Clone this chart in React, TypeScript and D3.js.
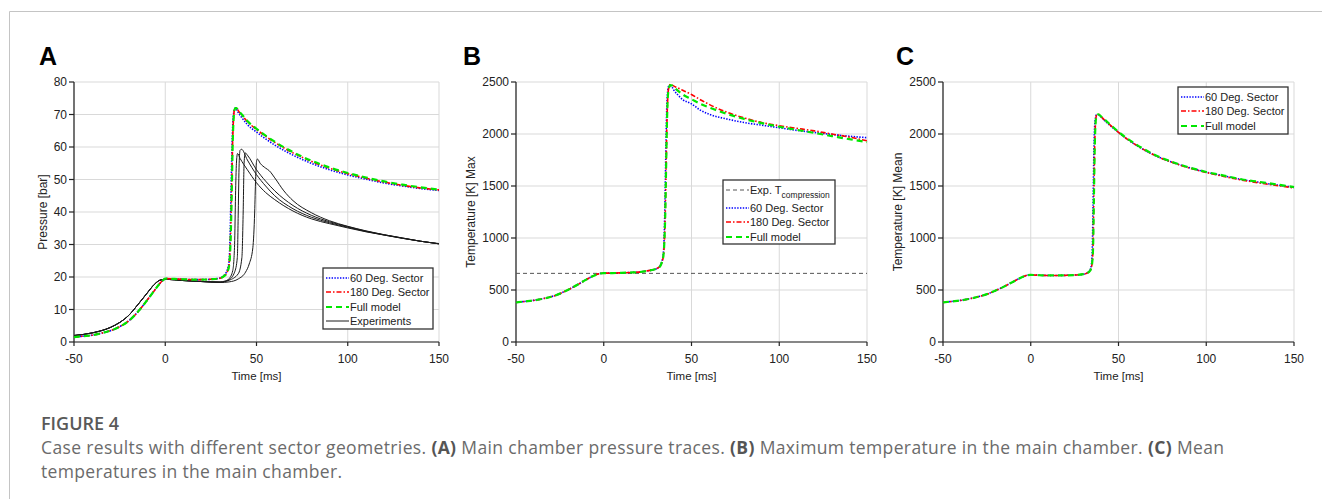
import React from "react";
import * as d3 from "d3";

// ---------- DATA ----------
// Panel A: pressure [bar]
const tSimA = [-50, -45, -40, -35, -30, -25, -20, -15, -10, -6, -3, -1, 0, 5, 10, 15, 20, 25, 30, 32, 34, 35, 35.5, 36, 36.5, 37, 37.5, 38, 38.5, 39, 40, 42, 45, 50, 55, 60, 70, 80, 90, 100, 110, 120, 130, 140, 150];
const pFull = [1.5, 1.8, 2.1, 2.7, 3.5, 4.7, 6.5, 9.3, 12.8, 15.8, 18.0, 19.1, 19.5, 19.4, 19.3, 19.2, 19.2, 19.3, 19.6, 20.2, 21.5, 23.5, 27, 35, 48, 62, 69, 71.5, 72, 72, 71.3, 70, 68, 65.6, 63.5, 61.6, 58.4, 55.8, 53.7, 52.0, 50.6, 49.4, 48.4, 47.6, 46.9];
const p180 = [1.5, 1.8, 2.1, 2.7, 3.5, 4.7, 6.5, 9.3, 12.8, 15.8, 18.0, 19.1, 19.5, 19.4, 19.3, 19.2, 19.2, 19.3, 19.6, 20.2, 21.6, 23.8, 28, 37, 50, 63, 69.5, 71.7, 72, 72, 71.2, 69.8, 67.8, 65.4, 63.3, 61.4, 58.2, 55.6, 53.5, 51.8, 50.4, 49.2, 48.2, 47.4, 46.8];
const p60 = [1.5, 1.8, 2.1, 2.7, 3.5, 4.7, 6.5, 9.3, 12.8, 15.8, 18.0, 19.1, 19.5, 19.4, 19.3, 19.2, 19.2, 19.3, 19.7, 20.4, 22.2, 25, 32, 45, 58, 67, 70.5, 71.8, 72, 71.6, 70.6, 69, 66.9, 64.6, 62.5, 60.6, 57.5, 55.0, 53.0, 51.4, 50.1, 48.9, 48.0, 47.2, 46.6];

const tExp1 = [-50, -40, -30, -25, -20, -15, -10, -6, -3, 0, 10, 20, 30, 33, 35, 37, 38, 38.5, 39, 39.6, 41, 45, 50, 55, 60, 70, 80, 90, 100, 110, 120, 130, 140, 150];
const pExp1 = [2.0, 2.8, 4.5, 6.0, 8.2, 11.5, 15.0, 17.7, 19.0, 19.3, 18.9, 18.6, 18.5, 18.8, 19.5, 22, 30, 45, 55, 58, 56.5, 53, 49, 46, 43.8, 40.3, 37.9, 36.4, 35.1, 33.9, 32.9, 31.9, 31.0, 30.2];
const tExp2 = [-50, -40, -30, -25, -20, -15, -10, -6, -3, 0, 10, 20, 30, 35, 38, 39.5, 40, 40.5, 41, 41.8, 45, 50, 55, 60, 70, 80, 90, 100, 110, 120, 130, 140, 150];
const pExp2 = [2.0, 2.8, 4.5, 6.0, 8.2, 11.5, 15.0, 17.7, 19.0, 19.3, 18.9, 18.6, 18.4, 19.2, 21.5, 26, 40, 55, 59, 59.3, 56, 51.5, 48, 45, 41, 38.4, 36.7, 35.3, 34.0, 32.9, 31.9, 31.0, 30.2];
const tExp3 = [-50, -40, -30, -25, -20, -15, -10, -6, -3, 0, 10, 20, 30, 35, 40, 42, 42.7, 43.2, 43.8, 45, 50, 55, 60, 70, 80, 90, 100, 110, 120, 130, 140, 150];
const pExp3 = [2.0, 2.8, 4.5, 6.0, 8.2, 11.5, 15.0, 17.7, 19.0, 19.3, 18.9, 18.6, 18.4, 19.0, 21, 26, 40, 55, 58.2, 57.5, 53, 49.5, 46.5, 42, 39, 37, 35.5, 34.1, 33.0, 32.0, 31.0, 30.2];
const tExp4 = [-50, -40, -30, -25, -20, -15, -10, -6, -3, 0, 10, 20, 30, 35, 40, 44, 46, 48, 49, 49.5, 50, 50.5, 52, 55, 57, 60, 65, 70, 80, 90, 100, 110, 120, 130, 140, 150];
const pExp4 = [2.0, 2.8, 4.5, 6.0, 8.2, 11.5, 15.0, 17.7, 19.0, 19.3, 18.9, 18.6, 18.3, 18.5, 19.4, 21.5, 24, 29, 40, 50, 55.5, 56.3, 55, 53.5, 52.7, 50.5, 46.5, 43.5, 39.8, 37.3, 35.6, 34.2, 33.0, 32.0, 31.0, 30.3];

// Panel B: maximum temperature [K]
const tB = [-50, -45, -40, -35, -30, -25, -20, -15, -10, -6, -3, 0, 5, 10, 15, 20, 25, 30, 32, 33, 34, 34.5, 35, 35.5, 36, 36.5, 37, 38, 39, 40, 42, 45, 50, 55, 60, 70, 80, 90, 100, 110, 120, 130, 140, 150];
const tmaxFull = [380, 390, 400, 415, 435, 465, 505, 550, 600, 635, 655, 662, 663, 665, 668, 672, 685, 705, 725, 760, 830, 950, 1200, 1650, 2100, 2350, 2430, 2470, 2465, 2450, 2420, 2380, 2335, 2290, 2255, 2195, 2145, 2105, 2070, 2040, 2010, 1980, 1950, 1922];
const tmax180 = [380, 390, 400, 415, 435, 465, 505, 550, 600, 635, 655, 662, 663, 665, 668, 672, 685, 705, 725, 760, 830, 950, 1200, 1650, 2100, 2350, 2440, 2478, 2470, 2460, 2445, 2420, 2380, 2330, 2285, 2210, 2155, 2110, 2080, 2055, 2030, 2000, 1970, 1935];
const tmax60 = [380, 390, 400, 415, 435, 465, 505, 550, 600, 635, 655, 662, 663, 665, 668, 672, 685, 705, 730, 770, 860, 1050, 1450, 1950, 2300, 2420, 2460, 2465, 2450, 2420, 2380, 2330, 2290, 2230, 2190, 2145, 2110, 2085, 2060, 2035, 2015, 1995, 1978, 1965];
const expTcomp = 660;

// Panel C: mean temperature [K]
const tC = [-50, -45, -40, -35, -30, -25, -20, -15, -10, -6, -3, 0, 5, 10, 15, 20, 25, 30, 32, 33, 34, 34.5, 35, 35.5, 36, 36.5, 37, 37.5, 38.5, 40, 42, 45, 50, 55, 60, 70, 80, 90, 100, 110, 120, 130, 140, 150];
const tmeanFull = [380, 390, 400, 415, 435, 460, 495, 535, 580, 615, 638, 645, 642, 640, 640, 641, 644, 652, 662, 672, 690, 715, 760, 900, 1400, 1900, 2120, 2175, 2190, 2170, 2140, 2095, 2020, 1955, 1900, 1805, 1735, 1680, 1635, 1600, 1565, 1540, 1515, 1490];
const tmean180 = [380, 390, 400, 415, 435, 460, 495, 535, 580, 615, 638, 645, 642, 640, 640, 641, 644, 652, 662, 672, 690, 715, 760, 920, 1450, 1920, 2130, 2180, 2190, 2168, 2135, 2090, 2015, 1950, 1895, 1800, 1730, 1675, 1630, 1592, 1558, 1530, 1505, 1482];
const tmean60 = [380, 390, 400, 415, 435, 460, 495, 535, 580, 615, 638, 645, 642, 640, 640, 641, 644, 652, 662, 674, 700, 740, 850, 1300, 1850, 2100, 2160, 2185, 2185, 2165, 2130, 2085, 2015, 1950, 1893, 1800, 1732, 1678, 1633, 1597, 1563, 1536, 1510, 1487];

const xTicks = [-50, 0, 50, 100, 150];
const yTicksA = [0, 10, 20, 30, 40, 50, 60, 70, 80];
const yTicksT = [0, 500, 1000, 1500, 2000, 2500];

const seriesNames = ["60 Deg. Sector", "180 Deg. Sector", "Full model"];

// ---------- STYLES ----------
const STY = {
  blue: { stroke: "#0000ff", width: 1.6, dash: "1.4,1.4" },
  red: { stroke: "#ff0000", width: 1.6, dash: "5,2,1.5,2" },
  green: { stroke: "#00e600", width: 2.2, dash: "6,4" },
  black: { stroke: "#1a1a1a", width: 1, dash: "none" },
  gray: { stroke: "#555", width: 1, dash: "4,3" },
};

const FONT = "'Liberation Sans', Arial, sans-serif";

type Sty = { stroke: string; width: number; dash: string };
type Line = { t: number[]; v: number[]; style: Sty };
type LegendItem = { label: React.ReactNode; style: Sty };

function Panel(props: {
  letter: string;
  letterX: number;
  x0: number;
  x1: number;
  yMax: number;
  yTicks: number[];
  yLabel: string;
  yLabelX: number;
  lines: Line[];
  hline?: { v: number; style: Sty };
  legend: { x: number; y: number; w: number; h: number; rows: number[]; items: LegendItem[] };
}) {
  const top = 82;
  const bottom = 342;
  const x = d3.scaleLinear().domain([-50, 150]).range([props.x0, props.x1]);
  const y = d3.scaleLinear().domain([0, props.yMax]).range([bottom, top]);
  const gen = d3
    .line<[number, number]>()
    .x((d) => x(d[0]))
    .y((d) => y(d[1]))
    .curve(d3.curveMonotoneX);
  const lg = props.legend;
  return (
    <g>
      <text x={props.letterX} y={65} fontFamily={FONT} fontWeight="bold" fontSize={25} fill="#000">
        {props.letter}
      </text>
      {xTicks.map((t) => (
        <line key={"gx" + t} x1={x(t)} x2={x(t)} y1={top} y2={bottom} stroke="#d9d9d9" strokeWidth={1} />
      ))}
      {props.yTicks.map((t) => (
        <line key={"gy" + t} x1={props.x0} x2={props.x1} y1={y(t)} y2={y(t)} stroke="#d9d9d9" strokeWidth={1} />
      ))}
      <line x1={props.x0} x2={props.x0} y1={top} y2={bottom} stroke="#222" strokeWidth={1.2} />
      <line x1={props.x0} x2={props.x1} y1={bottom} y2={bottom} stroke="#222" strokeWidth={1.2} />
      {props.yTicks.map((t) => (
        <g key={"yt" + t}>
          <line x1={props.x0 - 5} x2={props.x0} y1={y(t)} y2={y(t)} stroke="#222" strokeWidth={1.2} />
          <text x={props.x0 - 7} y={y(t) + 4.3} textAnchor="end" fontFamily={FONT} fontSize={12} fill="#222">
            {t}
          </text>
        </g>
      ))}
      {xTicks.map((t) => (
        <g key={"xt" + t}>
          <line x1={x(t)} x2={x(t)} y1={bottom} y2={bottom + 4} stroke="#222" strokeWidth={1.2} />
          <text x={x(t)} y={363} textAnchor="middle" fontFamily={FONT} fontSize={12} fill="#222">
            {t}
          </text>
        </g>
      ))}
      <text
        x={(props.x0 + props.x1) / 2}
        y={380}
        textAnchor="middle"
        fontFamily={FONT}
        fontSize={11.5}
        fill="#222"
      >
        Time [ms]
      </text>
      <text
        transform={`translate(${props.yLabelX},${212}) rotate(-90)`}
        textAnchor="middle"
        fontFamily={FONT}
        fontSize={12}
        fill="#222"
      >
        {props.yLabel}
      </text>
      {props.hline && (
        <line
          x1={props.x0}
          x2={props.x1}
          y1={y(props.hline.v)}
          y2={y(props.hline.v)}
          stroke={props.hline.style.stroke}
          strokeWidth={props.hline.style.width}
          strokeDasharray={props.hline.style.dash}
        />
      )}
      {props.lines.map((l, i) => (
        <path
          key={"l" + i}
          d={gen(l.t.map((t, j) => [t, l.v[j]] as [number, number])) || ""}
          fill="none"
          stroke={l.style.stroke}
          strokeWidth={l.style.width}
          strokeDasharray={l.style.dash}
        />
      ))}
      <rect x={lg.x} y={lg.y} width={lg.w} height={lg.h} fill="#fff" stroke="#333" strokeWidth={1.3} />
      {lg.items.map((it, i) => (
        <g key={"lg" + i}>
          <line
            x1={lg.x + 3}
            x2={lg.x + 26}
            y1={lg.rows[i]}
            y2={lg.rows[i]}
            stroke={it.style.stroke}
            strokeWidth={it.style.width}
            strokeDasharray={it.style.dash}
          />
          <text x={lg.x + 27} y={lg.rows[i] + 4} fontFamily={FONT} fontSize={11} fill="#222">
            {it.label}
          </text>
        </g>
      ))}
    </g>
  );
}

export default function App() {
  const simItems: LegendItem[] = [
    { label: seriesNames[0], style: STY.blue },
    { label: seriesNames[1], style: STY.red },
    { label: seriesNames[2], style: STY.green },
  ];
  const capFont = "'Open Sans', Lato, sans-serif";
  return (
    <svg width={1322} height={499} style={{ position: "absolute", left: 0, top: 0, background: "#fff" }}>
      <rect x={0} y={0} width={1322} height={499} fill="#fff" />
      <line x1={9.5} x2={1322} y1={11.5} y2={11.5} stroke="#c4c4c4" strokeWidth={1} />
      <line x1={9.5} x2={9.5} y1={11.5} y2={499} stroke="#c4c4c4" strokeWidth={1} />

      <Panel
        letter="A"
        letterX={39}
        x0={74}
        x1={439}
        yMax={80}
        yTicks={yTicksA}
        yLabel="Pressure [bar]"
        yLabelX={47}
        lines={[
          { t: tExp1, v: pExp1, style: STY.black },
          { t: tExp2, v: pExp2, style: STY.black },
          { t: tExp3, v: pExp3, style: STY.black },
          { t: tExp4, v: pExp4, style: STY.black },
          { t: tSimA, v: p60, style: STY.blue },
          { t: tSimA, v: p180, style: STY.red },
          { t: tSimA, v: pFull, style: STY.green },
        ]}
        legend={{
          x: 323,
          y: 268,
          w: 110,
          h: 61,
          rows: [278, 292, 307, 321],
          items: [...simItems, { label: "Experiments", style: STY.black }],
        }}
      />
      <Panel
        letter="B"
        letterX={463}
        x0={516}
        x1={867}
        yMax={2500}
        yTicks={yTicksT}
        yLabel="Temperature [K] Max"
        yLabelX={475}
        hline={{ v: expTcomp, style: STY.gray }}
        lines={[
          { t: tB, v: tmax60, style: STY.blue },
          { t: tB, v: tmax180, style: STY.red },
          { t: tB, v: tmaxFull, style: STY.green },
        ]}
        legend={{
          x: 723,
          y: 180,
          w: 112,
          h: 64,
          rows: [190, 208, 222, 237],
          items: [
            {
              label: (
                <>
                  Exp. T
                  <tspan fontSize={8.5} dy={4}>
                    compression
                  </tspan>
                </>
              ),
              style: STY.gray,
            },
            ...simItems,
          ],
        }}
      />
      <Panel
        letter="C"
        letterX={896}
        x0={943}
        x1={1294}
        yMax={2500}
        yTicks={yTicksT}
        yLabel="Temperature [K] Mean"
        yLabelX={902}
        lines={[
          { t: tC, v: tmean60, style: STY.blue },
          { t: tC, v: tmean180, style: STY.red },
          { t: tC, v: tmeanFull, style: STY.green },
        ]}
        legend={{
          x: 1178,
          y: 87,
          w: 110,
          h: 47,
          rows: [97, 111, 126],
          items: simItems,
        }}
      />

      <text x={41} y={430} fontFamily={capFont} fontWeight={600} fontSize={18} fill="#595959">
        FIGURE 4
      </text>
      <text
        x={41}
        y={454}
        fontFamily={capFont}
        fontSize={17.5}
        fill="#6b6b6b"
        textLength={1183}
        lengthAdjust="spacing"
      >
        Case results with different sector geometries.{" "}
        <tspan fontWeight={700} fill="#555">(A)</tspan> Main chamber pressure traces.{" "}
        <tspan fontWeight={700} fill="#555">(B)</tspan> Maximum temperature in the main chamber.{" "}
        <tspan fontWeight={700} fill="#555">(C)</tspan> Mean
      </text>
      <text x={41} y={478} fontFamily={capFont} fontSize={17.5} fill="#6b6b6b" textLength={301} lengthAdjust="spacing">
        temperatures in the main chamber.
      </text>
    </svg>
  );
}
